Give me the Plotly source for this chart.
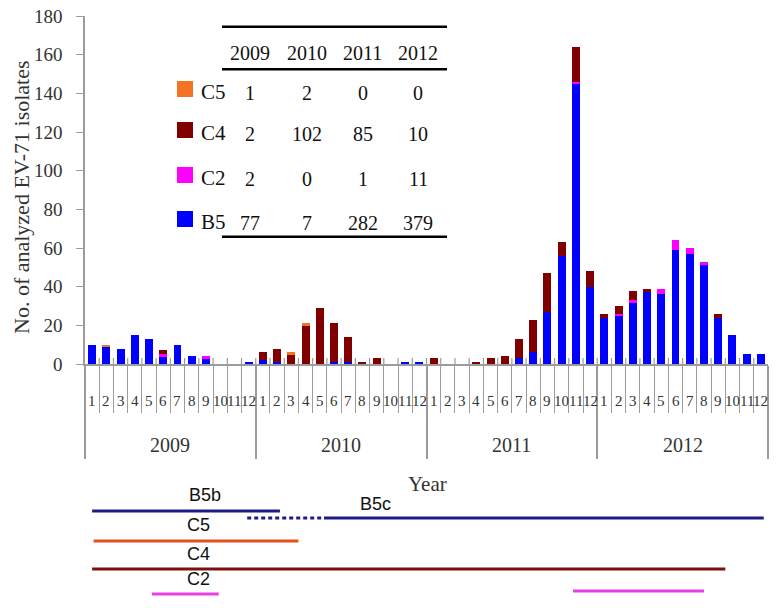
import plotly.graph_objects as go

# ---------------- data ----------------
years = ["2009", "2010", "2011", "2012"]
month_labels = ["1", "2", "3", "4", "5", "6", "7", "8", "9", "10", "11", "12"]

b5 = [10, 9, 8, 15, 13, 4, 10, 4, 3, 0, 0, 1,
      2, 1, 0, 0, 0, 1, 1, 0, 0, 0, 1, 1,
      0, 0, 0, 0, 0, 0, 3, 6, 27, 56, 145, 40,
      24, 25, 32, 37, 36, 59, 57, 51, 24, 15, 5, 5]
c2 = [0, 0, 0, 0, 0, 1, 0, 0, 1, 0, 0, 0,
      0, 0, 0, 0, 0, 0, 0, 0, 0, 0, 0, 0,
      0, 0, 0, 0, 0, 0, 0, 0, 0, 0, 1, 0,
      0, 1, 1, 0, 3, 5, 3, 2, 0, 0, 0, 0]
c4 = [0, 0, 0, 0, 0, 2, 0, 0, 0, 0, 0, 0,
      4, 7, 5, 20, 29, 20, 13, 1, 3, 0, 0, 0,
      3, 0, 0, 1, 3, 4, 10, 17, 20, 7, 18, 8,
      2, 4, 5, 2, 0, 0, 0, 0, 2, 0, 0, 0]
c5 = [0, 1, 0, 0, 0, 0, 0, 0, 0, 0, 0, 0,
      0, 0, 1, 1, 0, 0, 0, 0, 0, 0, 0, 0,
      0, 0, 0, 0, 0, 0, 0, 0, 0, 0, 0, 0,
      0, 0, 0, 0, 0, 0, 0, 0, 0, 0, 0, 0]

# inset table (genotype counts per year)
table_rows = ["C5", "C4", "C2", "B5"]
table_c5 = [1, 2, 0, 0]
table_c4 = [2, 102, 85, 10]
table_c2 = [2, 0, 1, 11]
table_b5 = [77, 7, 282, 379]

# lineage circulation periods (in month index units, 0 = Jan 2009)
lineage_label = ["B5b", "B5c", "B5c", "C5", "C4", "C2", "C2"]
lineage_start = [0.0, 10.9, 16.3, 0.1, 0.0, 4.2, 33.8]
lineage_end = [13.2, 16.3, 47.2, 14.5, 44.5, 8.9, 43.0]
lineage_certain = [True, False, True, True, True, True, True]

# ---------------- styling / layout helpers ----------------
OFF = 8                     # page body margin of the html page
W, H = 779 - OFF, 608 - OFF
PL, PR, PT, PB = 85, 768, 16, 600      # plot area in window pixels
ML, MT = PL - OFF, PT - OFF
MR, MB = W - (PR - OFF), H - (PB - OFF)
PW, PH = PR - PL, PB - PT


def px2x(px):
    return (px - PL) / PW


def py2y(py):
    return (PB - py) / PH


col = {"B5": "#0000FF", "C2": "#FF00FF", "C4": "#800000", "C5": "#F47320"}
line_col = {"B5b": "#1C1C86", "B5c": "#1C1C86", "C5": "#E8501E",
            "C4": "#7A1010", "C2": "#E83EE8"}
lineage_row = [21, 28, 28, 51, 79, 104, 101]
gray = "#9C9C9C"
serif = "Liberation Serif"
sans = "Liberation Sans"

n = len(b5)
idx = list(range(n))

fig = go.Figure()
for name, vals in [("B5", b5), ("C2", c2), ("C4", c4), ("C5", c5)]:
    fig.add_trace(go.Bar(x=idx, y=vals, name=name, marker_color=col[name],
                         marker_line_width=0, showlegend=False))

for lab, s, e, ok, r in zip(lineage_label, lineage_start, lineage_end,
                            lineage_certain, lineage_row):
    fig.add_trace(go.Scatter(
        x=[s, e], y=[r, r], mode="lines", xaxis="x", yaxis="y2",
        line=dict(color=line_col[lab], width=3,
                  dash="solid" if ok else "4px,3px"),
        showlegend=False, hoverinfo="skip"))

year_bounds = [12 * k - 0.5 for k in range(len(years) + 1)]
month_bounds = [i - 0.5 for i in range(n + 1)]

bar_bottom = py2y(364)
annotations = []
shapes = []


def ann(**kw):
    d = dict(showarrow=False, xanchor="center", yanchor="middle")
    d.update(kw)
    annotations.append(d)


# small stubs of the separators that poke above the baseline
for b in month_bounds[1:-1]:
    shapes.append(dict(type="line", xref="x", yref="paper", x0=b, x1=b,
                       y0=py2y(364), y1=py2y(358),
                       line=dict(color=gray, width=1.2)))

# month & year labels
for i in range(n):
    ann(x=i, y=py2y(401), xref="x", yref="paper", text=month_labels[i % 12],
        font=dict(family=serif, size=15, color="#333"))
for k, yr in enumerate(years):
    ann(x=12 * k + 5.5, y=py2y(445), xref="x", yref="paper", text=yr,
        font=dict(family=serif, size=20, color="#333"))
ann(x=px2x(427), y=py2y(484), xref="paper", yref="paper", text="Year",
    font=dict(family=serif, size=21, color="#333"))
ann(x=px2x(22), y=py2y(197), xref="paper", yref="paper",
    text="No. of analyzed EV-71 isolates", textangle=-90,
    font=dict(family=serif, size=22, color="#333"))

# inset table
col_x = [250, 306.7, 362.7, 418.3]
row_y = [93, 134, 179, 223]
for cx, yr in zip(col_x, years):
    ann(x=px2x(cx), y=py2y(52.5), xref="paper", yref="paper", text=yr,
        font=dict(family=serif, size=20, color="#111"))
for ry, name, vals in zip(row_y, table_rows,
                          [table_c5, table_c4, table_c2, table_b5]):
    ann(x=px2x(199), y=py2y(ry - 1), xref="paper", yref="paper", text=name,
        xanchor="left", font=dict(family=serif, size=21, color="#111"))
    shapes.append(dict(type="rect", xref="paper", yref="paper",
                       x0=px2x(177), x1=px2x(193),
                       y0=py2y(ry - 4 + 8), y1=py2y(ry - 4 - 8),
                       fillcolor=col[name], line=dict(width=0)))
    for cx, v in zip(col_x, vals):
        ann(x=px2x(cx), y=py2y(ry), xref="paper", yref="paper", text=str(v),
            font=dict(family=serif, size=20, color="#111"))
for ly in [26.7, 69.3, 236.7]:
    shapes.append(dict(type="line", xref="paper", yref="paper",
                       x0=px2x(222), x1=px2x(447), y0=py2y(ly), y1=py2y(ly),
                       line=dict(color="#000", width=2.5)))

# lineage labels
lab_pos = {"B5b": (7.9, 17), "B5c": (19.9, 26), "C5": (7.45, 47),
           "C4": (7.5, 76), "C2": (7.45, 101)}
for lab, (lx, lyv) in lab_pos.items():
    ann(x=lx, y=lyv, xref="x", yref="y2", text=lab, yanchor="bottom",
        font=dict(family=sans, size=18, color="#111"))

fig.update_layout(
    width=W, height=H,
    margin=dict(l=ML, r=MR, t=MT, b=MB, pad=0, autoexpand=False),
    paper_bgcolor="white", plot_bgcolor="white",
    barmode="stack", bargap=0.44,
    xaxis=dict(range=[-0.5, n - 0.5], anchor="y", showticklabels=False,
               automargin=False, showgrid=False, zeroline=False,
               showline=True, linecolor=gray, linewidth=1.5,
               tickmode="array", tickvals=year_bounds, ticks="outside",
               ticklen=93, tickwidth=1.5, tickcolor=gray,
               minor=dict(tickmode="array", tickvals=month_bounds,
                          ticks="outside", ticklen=47, tickwidth=1.2,
                          tickcolor=gray, showgrid=False)),
    yaxis=dict(domain=[bar_bottom, 1], range=[0, 180], dtick=20,
               automargin=False, showgrid=False, zeroline=False,
               showline=True, linecolor=gray, linewidth=1.5,
               ticks="outside", ticklen=7, tickcolor=gray, tickwidth=1.2,
               ticklabelstandoff=10, ticklabeloverflow="allow",
               tickfont=dict(family=serif, size=19, color="#333")),
    yaxis2=dict(domain=[0, py2y(490)], range=[110, 0], visible=False,
                anchor="x"),
    annotations=annotations,
    shapes=shapes,
)

fig.write_html("out.html")
